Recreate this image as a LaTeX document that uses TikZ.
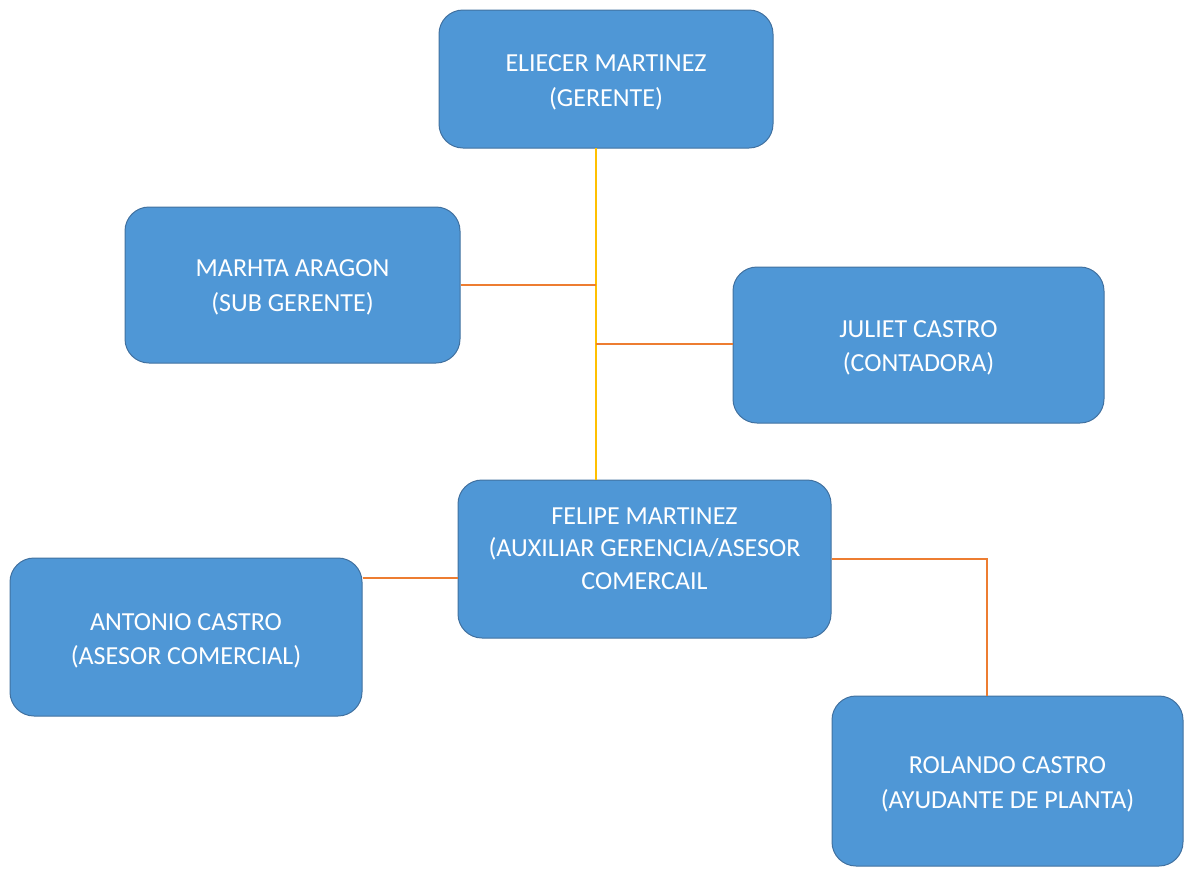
\documentclass[tikz,border=0pt]{standalone}
\usepackage{fontspec}
\setmainfont{Carlito}
\definecolor{boxfill}{RGB}{79,151,214}
\definecolor{boxline}{RGB}{65,113,160}
\definecolor{trunk}{RGB}{255,192,0}
\definecolor{branch}{RGB}{237,125,49}
\begin{document}
\begin{tikzpicture}[x=1pt,y=-1pt,
  person/.style={draw=boxline,fill=boxfill,line width=1pt,rounded corners=24pt,
    inner sep=0pt},
  caption/.style={inner sep=0pt,align=center,text=white,
    font=\fontsize{26}{34.5}\selectfont},
  trunkline/.style={draw=trunk,line width=2pt},
  branchline/.style={draw=branch,line width=2pt}]
\useasboundingbox (0,0) rectangle (1184,868);
% boxes: centre, width, height
\node[person,minimum width=334pt,minimum height=138pt] (gerente) at (606,79) {};
\node[person,minimum width=335pt,minimum height=156pt] (subgerente) at (292.5,285) {};
\node[person,minimum width=371pt,minimum height=156pt] (contadora) at (918.5,345) {};
\node[person,minimum width=373pt,minimum height=158pt] (auxiliar) at (644.5,559) {};
\node[person,minimum width=352pt,minimum height=158pt] (asesor) at (186,637) {};
\node[person,minimum width=351pt,minimum height=170pt] (ayudante) at (1007.5,781) {};
% names and positions
\node[caption] (gerente-t) at ([yshift=-3.5pt]gerente.center)
  {ELIECER MARTINEZ\\(GERENTE)};
\node[caption] (subgerente-t) at ([yshift=-2.5pt]subgerente.center)
  {MARHTA ARAGON\\(SUB GERENTE)};
\node[caption] (contadora-t) at ([yshift=-3pt]contadora.center)
  {JULIET CASTRO\\(CONTADORA)};
\node[caption,font=\fontsize{26}{32.5}\selectfont] (auxiliar-t)
  at ([yshift=10.5pt]auxiliar.center)
  {FELIPE MARTINEZ\\(AUXILIAR GERENCIA/ASESOR\\COMERCAIL};
\node[caption] (asesor-t) at ([yshift=-4pt]asesor.center)
  {ANTONIO CASTRO\\(ASESOR COMERCIAL)};
\node[caption] (ayudante-t) at ([yshift=-3.5pt]ayudante.center)
  {ROLANDO CASTRO\\(AYUDANTE DE PLANTA)};
% junction points on the trunk
\coordinate (jsub) at (596,285);
\coordinate (jcon) at (596,344);
\coordinate (jtop) at (596,148);
\coordinate (jbot) at (596,480);
\coordinate (bend) at (987,559);
% connectors
\draw[trunkline] (jtop) -- (jbot);
\draw[branchline] (subgerente.east |- jsub) -- (jsub);
\draw[branchline] (jcon) -- (contadora.west |- jcon);
\draw[branchline] (asesor.east |- 0,578) -- (auxiliar.west |- 0,578);
\draw[branchline] (auxiliar.east |- bend) -- (bend) -- (bend |- ayudante.north);
\end{tikzpicture}
\end{document}
